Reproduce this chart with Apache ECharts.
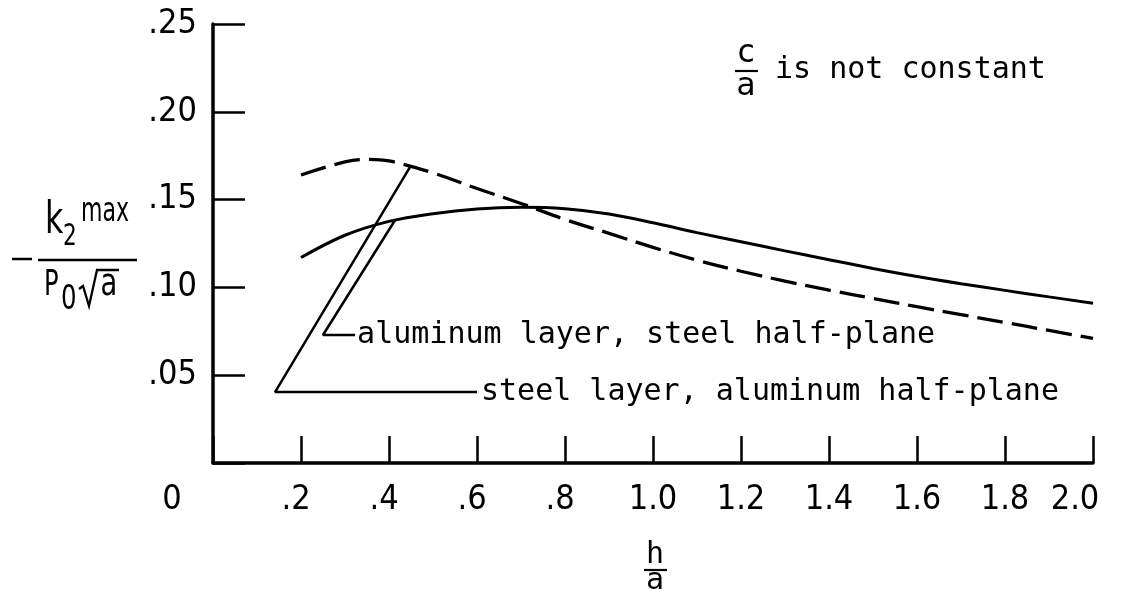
<!DOCTYPE html>
<html>
<head>
<meta charset="utf-8">
<script src="https://cdn.jsdelivr.net/npm/echarts@6/dist/echarts.min.js"></script>
<style>
  html, body { margin: 0; padding: 0; background: #fff; }
  #chart { width: 1125px; height: 599px; }
</style>
</head>
<body>
<div id="chart"></div>
<script>
// h/a sample points and -k2max/(P0*sqrt(a)) for each layer combination
const alumX = [0.2, 0.3, 0.4, 0.5, 0.6, 0.7, 0.8, 0.9, 1.0, 1.1, 1.2, 1.3, 1.4, 1.5, 1.6, 1.7, 1.8, 1.9, 2.0];
const alumK = [0.117, 0.1297, 0.1376, 0.142, 0.1447, 0.1456, 0.1448, 0.1418, 0.1368, 0.1312, 0.126, 0.1208, 0.1158, 0.1108, 0.1062, 0.1021, 0.0983, 0.0946, 0.091];

const steelX = [0.2, 0.3, 0.35, 0.4, 0.5, 0.6, 0.7, 0.8, 0.9, 1.0, 1.1, 1.2, 1.3, 1.4, 1.5, 1.6, 1.7, 1.8, 1.9, 2.0];
const steelK = [0.164, 0.1715, 0.1729, 0.172, 0.1652, 0.1563, 0.1478, 0.1387, 0.1308, 0.1228, 0.1155, 0.1092, 0.1036, 0.0985, 0.0937, 0.089, 0.0845, 0.08, 0.0755, 0.071];

// leader lines: from the curve down to the elbow, then across to the text
const alumLeaderX = [0.414, 0.25, 0.323];
const alumLeaderK = [0.1384, 0.0729, 0.0729];
const steelLeaderX = [0.448, 0.141, 0.60];
const steelLeaderK = [0.1686, 0.0404, 0.0404];

const alumName = 'aluminum layer, steel half-plane';
const steelName = 'steel layer, aluminum half-plane';
const noteText = 'is not constant';

const xTicks = [0, 0.2, 0.4, 0.6, 0.8, 1.0, 1.2, 1.4, 1.6, 1.8, 2.0];
const xTickLabels = ['0', '.2', '.4', '.6', '.8', '1.0', '1.2', '1.4', '1.6', '1.8', '2.0'];
const yTicks = [0, 0.05, 0.10, 0.15, 0.20, 0.25];
const yTickLabels = ['', '.05', '.10', '.15', '.20', '.25'];

const pairs = (xs, ys) => xs.map((x, i) => [x, ys[i]]);

const NARROW = '"Liberation Sans Narrow", "DejaVu Sans Condensed", "Liberation Sans", sans-serif';
const MONO = '"DejaVu Sans Mono", "Liberation Mono", monospace';

function findLabel(ticks, labels, v) {
  for (let i = 0; i < ticks.length; i++) {
    if (Math.abs(ticks[i] - v) < 1e-6) return labels[i];
  }
  return '';
}

// horizontally compressed text piece for the axis titles
function glyph(text, x, y, size, family, sx, align) {
  return {
    type: 'text', x: x, y: y, scaleX: sx,
    style: { text: text, x: 0, y: 0, font: size + 'px ' + family, fill: '#000',
             textAlign: align || 'left', textVerticalAlign: 'middle' }
  };
}

const chart = echarts.init(document.getElementById('chart'), null, { renderer: 'canvas' });

const lineBlack = { color: '#000' };

chart.setOption({
  animation: false,
  backgroundColor: '#fff',
  grid: { left: 213, right: 32, top: 24, bottom: 136, containLabel: false, outerBoundsMode: 'none' },
  xAxis: {
    type: 'value',
    min: 0, max: 2, interval: 0.2,
    splitLine: { show: false },
    axisLine: { show: true, lineStyle: { color: '#000', width: 3.5 } },
    axisTick: { show: true, inside: true, length: 27, lineStyle: { color: '#000', width: 2.5 } },
    axisLabel: {
      show: true, margin: 20, showMinLabel: true, showMaxLabel: true,
      color: '#000', fontFamily: NARROW, fontSize: 34,
      formatter: function (v) {
        const t = findLabel(xTicks, xTickLabels, v);
        if (Math.abs(v) < 1e-6) return '{o|' + t + '}';
        if (Math.abs(v - 2) < 1e-6) return '{e|' + t + '}';
        if (v < 0.9) return '{s|' + t + '}';
        return t;
      },
      rich: {
        o: { fontFamily: NARROW, fontSize: 34, color: '#000', padding: [0, 82, 0, 0] },
        e: { fontFamily: NARROW, fontSize: 34, color: '#000', padding: [0, 36, 0, 0] },
        s: { fontFamily: NARROW, fontSize: 34, color: '#000', padding: [0, 10, 0, 0] }
      }
    }
  },
  yAxis: {
    type: 'value',
    min: 0, max: 0.25, interval: 0.05,
    splitLine: { show: false },
    axisLine: { show: true, lineStyle: { color: '#000', width: 3.5 } },
    axisTick: { show: true, inside: true, length: 32, lineStyle: { color: '#000', width: 2.5 } },
    axisLabel: {
      show: true, margin: 16, showMinLabel: true, showMaxLabel: true,
      color: '#000', fontFamily: NARROW, fontSize: 34,
      formatter: v => findLabel(yTicks, yTickLabels, v)
    }
  },
  series: [
    {
      name: alumName, type: 'line', data: pairs(alumX, alumK),
      smooth: 0.35, showSymbol: false, symbol: 'none',
      lineStyle: { color: '#000', width: 3 }, itemStyle: lineBlack, z: 3
    },
    {
      name: steelName, type: 'line', data: pairs(steelX, steelK),
      smooth: 0.35, showSymbol: false, symbol: 'none',
      lineStyle: { color: '#000', width: 3.3, type: [26, 9] }, itemStyle: lineBlack, z: 3
    },
    {
      name: alumName + ' leader', type: 'line', data: pairs(alumLeaderX, alumLeaderK),
      smooth: false, showSymbol: false, symbol: 'none',
      lineStyle: { color: '#000', width: 2.5 }, itemStyle: lineBlack, z: 2,
      endLabel: { show: true, formatter: alumName, color: '#000', fontFamily: MONO, fontSize: 30, distance: 2 }
    },
    {
      name: steelName + ' leader', type: 'line', data: pairs(steelLeaderX, steelLeaderK),
      smooth: false, showSymbol: false, symbol: 'none',
      lineStyle: { color: '#000', width: 2.5 }, itemStyle: lineBlack, z: 2,
      endLabel: { show: true, formatter: steelName, color: '#000', fontFamily: MONO, fontSize: 30, distance: 4 }
    }
  ],
  graphic: [
    // vertical axis title: -k2max / (P0 sqrt(a))
    { type: 'line', shape: { x1: 12, y1: 259, x2: 32, y2: 259 }, style: { stroke: '#000', lineWidth: 2.5 } },
    { type: 'line', shape: { x1: 38, y1: 260, x2: 137, y2: 260 }, style: { stroke: '#000', lineWidth: 2.5 } },
    glyph('k', 45, 222, 44, NARROW, 0.8),
    glyph('2', 63, 237, 30, NARROW, 0.8),
    glyph('max', 81, 212, 34, NARROW, 0.72),
    glyph('P', 44, 286, 36, NARROW, 0.75),
    glyph('0', 61, 300, 34, NARROW, 0.8),
    { type: 'polyline', shape: { points: [[79, 289], [83, 286], [89, 306], [97, 270], [119, 270]] }, style: { stroke: '#000', lineWidth: 2.3, fill: null } },
    glyph('a', 109, 285, 38, NARROW, 0.8, 'center'),

    // horizontal axis title: h/a
    glyph('h', 655, 555, 30, MONO, 1, 'center'),
    { type: 'line', shape: { x1: 644, y1: 570, x2: 667, y2: 570 }, style: { stroke: '#000', lineWidth: 2.2 } },
    glyph('a', 655, 581, 30, MONO, 1, 'center'),

    // note: c/a is not constant
    glyph('c', 746, 54, 32, MONO, 1, 'center'),
    { type: 'line', shape: { x1: 735, y1: 71, x2: 758, y2: 71 }, style: { stroke: '#000', lineWidth: 2.2 } },
    glyph('a', 746, 87, 32, MONO, 1, 'center'),
    glyph(noteText, 775, 70, 30, MONO, 1, 'left')
  ]
});
</script>
</body>
</html>
